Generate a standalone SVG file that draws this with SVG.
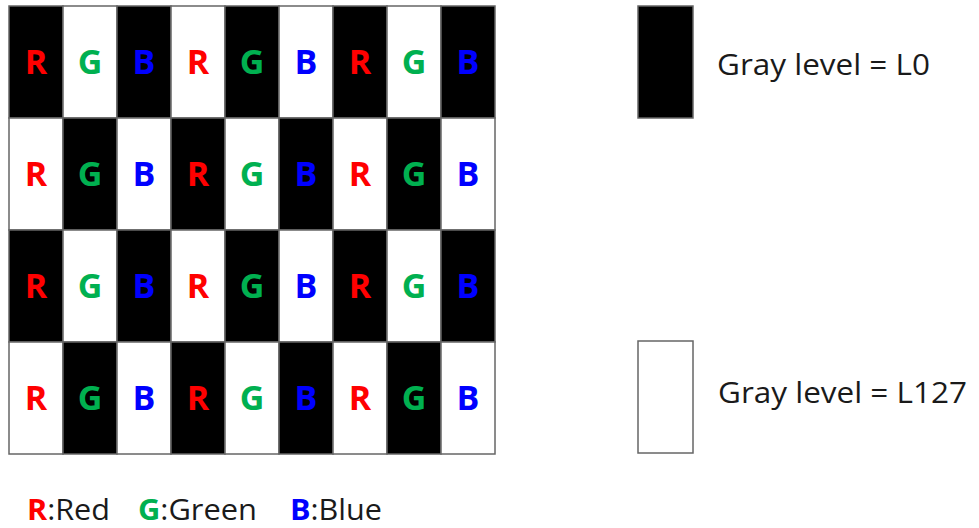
<svg xmlns="http://www.w3.org/2000/svg" width="979" height="528" viewBox="0 0 979 528">
<style>
.k{fill:#000;stroke:#666;stroke-width:1.5}
.w{fill:#fff;stroke:#666;stroke-width:1.5}
.L{font-family:"Open Sans","Liberation Sans",sans-serif;font-weight:bold;font-size:34px;text-anchor:middle}
.r{fill:#ff0000}.g{fill:#00b050}.b{fill:#0000ff}
.t{font-family:"Open Sans","Liberation Sans",sans-serif;font-size:29px;fill:#1a1a1a}
.q{font-family:"Open Sans","Liberation Sans",sans-serif;font-size:29px;fill:#1a1a1a}
</style>
<rect width="979" height="528" fill="#fff"/>
<g id="grid">
<g id="row0">
<rect class="k" x="9" y="6" width="54" height="112"/><rect class="w" x="63" y="6" width="54" height="112"/><rect class="k" x="117" y="6" width="54" height="112"/><rect class="w" x="171" y="6" width="54" height="112"/><rect class="k" x="225" y="6" width="54" height="112"/><rect class="w" x="279" y="6" width="54" height="112"/><rect class="k" x="333" y="6" width="54" height="112"/><rect class="w" x="387" y="6" width="54" height="112"/><rect class="k" x="441" y="6" width="54" height="112"/>
</g>
<g id="row1">
<rect class="w" x="9" y="118" width="54" height="112"/><rect class="k" x="63" y="118" width="54" height="112"/><rect class="w" x="117" y="118" width="54" height="112"/><rect class="k" x="171" y="118" width="54" height="112"/><rect class="w" x="225" y="118" width="54" height="112"/><rect class="k" x="279" y="118" width="54" height="112"/><rect class="w" x="333" y="118" width="54" height="112"/><rect class="k" x="387" y="118" width="54" height="112"/><rect class="w" x="441" y="118" width="54" height="112"/>
</g>
<g id="row2">
<rect class="k" x="9" y="230" width="54" height="112"/><rect class="w" x="63" y="230" width="54" height="112"/><rect class="k" x="117" y="230" width="54" height="112"/><rect class="w" x="171" y="230" width="54" height="112"/><rect class="k" x="225" y="230" width="54" height="112"/><rect class="w" x="279" y="230" width="54" height="112"/><rect class="k" x="333" y="230" width="54" height="112"/><rect class="w" x="387" y="230" width="54" height="112"/><rect class="k" x="441" y="230" width="54" height="112"/>
</g>
<g id="row3">
<rect class="w" x="9" y="342" width="54" height="112"/><rect class="k" x="63" y="342" width="54" height="112"/><rect class="w" x="117" y="342" width="54" height="112"/><rect class="k" x="171" y="342" width="54" height="112"/><rect class="w" x="225" y="342" width="54" height="112"/><rect class="k" x="279" y="342" width="54" height="112"/><rect class="w" x="333" y="342" width="54" height="112"/><rect class="k" x="387" y="342" width="54" height="112"/><rect class="w" x="441" y="342" width="54" height="112"/>
</g>
<g id="letters">
<text class="L r" x="36" y="74">R</text><text class="L g" x="90" y="74">G</text><text class="L b" x="144" y="74">B</text><text class="L r" x="198" y="74">R</text><text class="L g" x="252" y="74">G</text><text class="L b" x="306" y="74">B</text><text class="L r" x="360" y="74">R</text><text class="L g" x="414" y="74">G</text><text class="L b" x="468" y="74">B</text>
<text class="L r" x="36" y="186">R</text><text class="L g" x="90" y="186">G</text><text class="L b" x="144" y="186">B</text><text class="L r" x="198" y="186">R</text><text class="L g" x="252" y="186">G</text><text class="L b" x="306" y="186">B</text><text class="L r" x="360" y="186">R</text><text class="L g" x="414" y="186">G</text><text class="L b" x="468" y="186">B</text>
<text class="L r" x="36" y="298">R</text><text class="L g" x="90" y="298">G</text><text class="L b" x="144" y="298">B</text><text class="L r" x="198" y="298">R</text><text class="L g" x="252" y="298">G</text><text class="L b" x="306" y="298">B</text><text class="L r" x="360" y="298">R</text><text class="L g" x="414" y="298">G</text><text class="L b" x="468" y="298">B</text>
<text class="L r" x="36" y="410">R</text><text class="L g" x="90" y="410">G</text><text class="L b" x="144" y="410">B</text><text class="L r" x="198" y="410">R</text><text class="L g" x="252" y="410">G</text><text class="L b" x="306" y="410">B</text><text class="L r" x="360" y="410">R</text><text class="L g" x="414" y="410">G</text><text class="L b" x="468" y="410">B</text>
</g>
</g>
<g id="legend-L0">
<rect class="k" x="638" y="6" width="55" height="112"/>
<text class="t" x="717" y="75" textLength="213" lengthAdjust="spacingAndGlyphs">Gray level = L0</text>
</g>
<g id="legend-L127">
<rect class="w" x="638" y="341" width="55" height="112"/>
<text class="t" x="718" y="403" textLength="249" lengthAdjust="spacingAndGlyphs">Gray level = L127</text>
</g>
<g id="key">
<text class="q" x="27" y="520" textLength="83" lengthAdjust="spacingAndGlyphs"><tspan class="r" font-weight="bold">R</tspan>:Red</text>
<text class="q" x="138" y="520" textLength="119" lengthAdjust="spacingAndGlyphs"><tspan class="g" font-weight="bold">G</tspan>:Green</text>
<text class="q" x="290" y="520" textLength="92" lengthAdjust="spacingAndGlyphs"><tspan class="b" font-weight="bold">B</tspan>:Blue</text>
</g>
<g id="connectors"/>
</svg>
